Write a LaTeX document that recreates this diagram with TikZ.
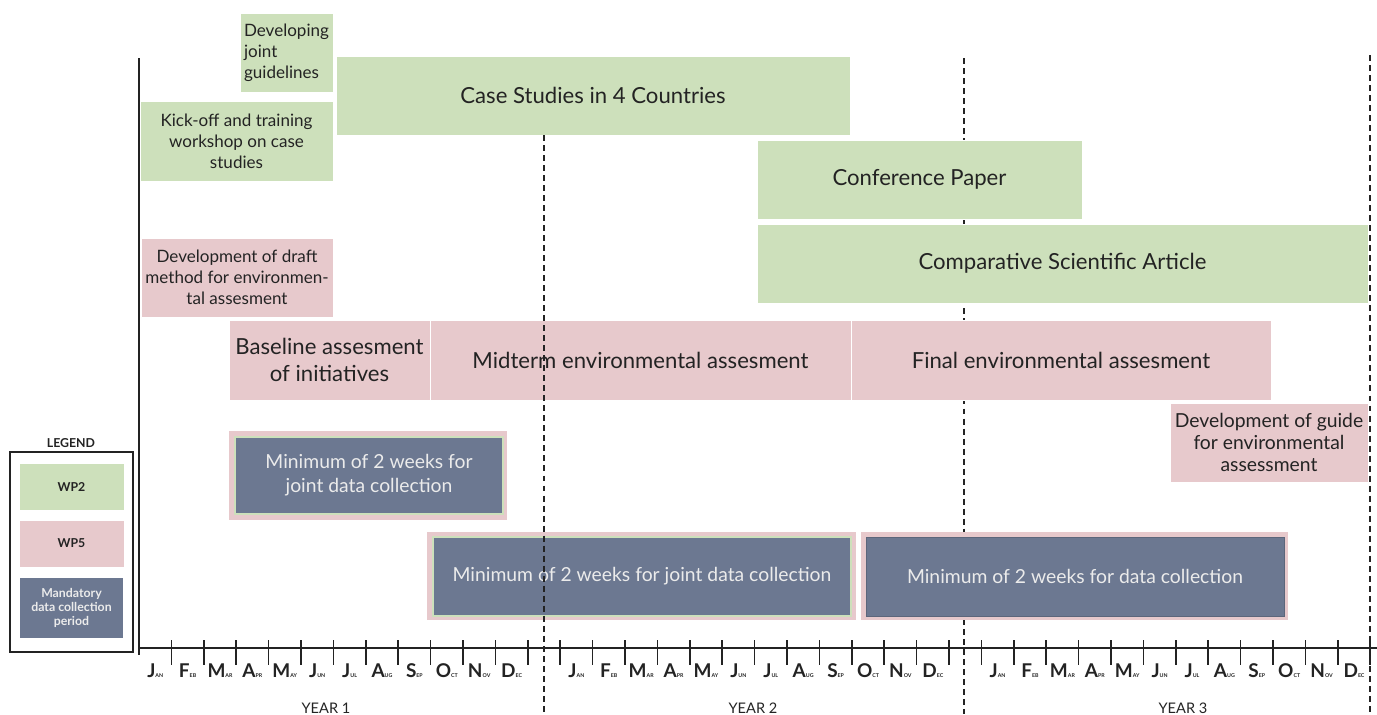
\documentclass[tikz,border=0pt]{standalone}
\usepackage{fontspec}
\setmainfont{Lato}
\definecolor{wpgreen}{RGB}{205,224,187}
\definecolor{wppink}{RGB}{231,201,204}
\definecolor{wpslate}{RGB}{108,120,145}
\definecolor{ink}{RGB}{35,35,35}
\newdimen\px \px=0.02cm
\tikzset{
  wptwo/.style={fill=wpgreen, draw=white, line width=0.5pt, inner sep=0pt, align=center, text=ink},
  wpfive/.style={fill=wppink, draw=white, line width=0.5pt, inner sep=0pt, align=center, text=ink},
  collect/.style={fill=wpslate, draw=wpgreen, line width=0.7pt, inner sep=0pt, align=center, text=white!92!black},
  collectb/.style={collect, draw=wpslate!85!black, line width=0.4pt},
  pinkframe/.style={fill=wppink, draw=none, inner sep=0pt},
  keyframe/.style={draw=ink, line width=0.6pt, inner sep=0pt},
  smalltxt/.style={font=\fontsize{9.7}{11.9}\selectfont},
  midtxt/.style={font=\fontsize{11}{13.6}\selectfont},
  bigtxt/.style={font=\fontsize{12.6}{14.9}\selectfont},
  keytxt/.style={font=\fontsize{7}{8.2}\selectfont\bfseries},
  month/.style={anchor=base, inner sep=0pt, text=ink},
  yeartxt/.style={font=\fontsize{8.3}{9}\selectfont, text=ink},
  tickmark/.style={line width=0.9pt, ink},
  sepline/.style={dash pattern=on 3.4pt off 2.3pt, line width=0.6pt, ink}
}
% box given by its corners in pixels
\newcommand{\task}[7]{%
  \node[#1, minimum width={(#5-#3)*\px}, minimum height={(#6-#4)*\px}]
    (#2) at ({(#3+#5)/2},{(#4+#6)/2}) {#7};}
\begin{document}
\begin{tikzpicture}[x=0.02cm, y=-0.02cm]
    \useasboundingbox (0,0) rectangle (1377,714);
    % separator behind the boxes
    \draw[sepline] (964,58) -- (964,714);
    % WP2
    \task{wptwo, smalltxt, align=left}{guide}{240}{13}{333}{92}{Developing\\joint\\guidelines}
    \task{wptwo, bigtxt}{cases}{336}{56}{850}{135}{\raisebox{-2pt}{Case Studies in 4 Countries}}
    \task{wptwo, smalltxt}{kickoff}{140}{101}{333}{181}{Kick-off and training\\workshop on case\\studies}
    \task{wptwo, bigtxt}{conf}{757}{140}{1082}{219}{\raisebox{-1.5pt}{Conference Paper}}
    \task{wptwo, bigtxt}{article}{757}{224}{1368}{303}{\raisebox{-2pt}{Comparative Scientific Article}}
    % WP5
    \task{wpfive, smalltxt}{draft}{141}{238}{333}{317}{Development of draft\\method for environmen-\\tal assesment}
    \task{wpfive, bigtxt}{baseline}{229}{320}{430}{400}{Baseline assesment\\of initiatives}
    \task{wpfive, bigtxt}{midterm}{430}{320}{851}{400}{Midterm environmental assesment}
    \task{wpfive, bigtxt}{final}{851}{320}{1271}{400}{Final environmental assesment}
    \task{wpfive, font=\fontsize{11}{12.6}\selectfont}{guidefin}{1170}{403}{1368}{482}{Development of guide\\for environmental\\assessment}
    % data collection periods
    \task{pinkframe}{frameA}{229}{431}{507}{520}{}
    \task{collect, midtxt}{collA}{235}{437}{503}{514}{Minimum of 2 weeks for\\joint data collection}
    \task{pinkframe}{frameB}{427}{532}{856}{620}{}
    \task{collect, midtxt}{collB}{433}{537}{851}{616}{Minimum of 2 weeks for joint data collection}
    \task{pinkframe}{frameC}{861}{532}{1288}{620}{}
    \task{collectb, midtxt}{collC}{866}{537}{1284}{616}{Minimum of 2 weeks for data collection}
    % separators on top
    \draw[sepline] (544,135) -- (544,714);
    \draw[sepline] (1370,55) -- (1370,714);
    % axes
    \draw[line width=1pt, ink] (139,58) -- (139,655);
    \draw[line width=1pt, ink] (139,648) -- (1377,648);
    \foreach \k in {1,...,38}
        \draw[tickmark] ({139+\k*32.4},640) -- ({139+\k*32.4},665);
    \foreach \yr in {0,13,26}
        \foreach \m/\s [count=\i from 0] in {J/AN,F/EB,M/AR,A/PR,M/AY,J/UN,J/UL,A/UG,S/EP,O/CT,N/OV,D/EC}
            \node[month] (m\yr-\i) at ({139+(\yr+\i+0.5)*32.4},677)
                {\fontsize{10.8}{12}\selectfont\bfseries\m\fontsize{3}{3.5}\selectfont\s};
    \node[yeartxt] (year1) at (326,708) {YEAR 1};
    \node[yeartxt] (year2) at (753,708) {YEAR 2};
    \node[yeartxt] (year3) at (1183,708) {YEAR 3};
    % legend
    \node[keytxt, text=ink] (legendtitle) at (71,443) {LEGEND};
    \task{keyframe}{legend}{10}{452}{133}{652}{}
    \task{wptwo, keytxt}{keytwo}{19}{463}{124}{510}{WP2}
    \task{wpfive, keytxt}{keyfive}{19}{520}{124}{567}{WP5}
    \task{collect, keytxt, draw=white}{keycoll}{19}{577}{124}{639}{Mandatory\\data collection\\period}
\end{tikzpicture}
\end{document}
